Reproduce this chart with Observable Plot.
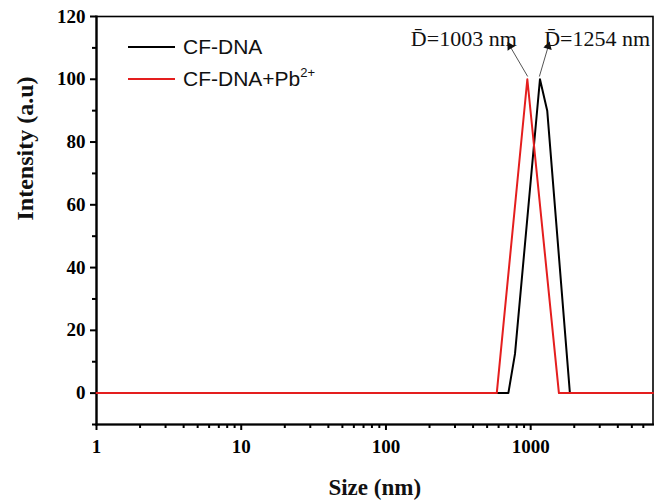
<!DOCTYPE html>
<html>
<head>
<meta charset="utf-8">
<script src="https://cdn.jsdelivr.net/npm/d3@7"></script>
<script src="https://cdn.jsdelivr.net/npm/@observablehq/plot@0.6"></script>
<style>
  html, body { margin: 0; padding: 0; background: white; }
  #wrap { position: relative; width: 654px; height: 503px; }
  #legend { position: absolute; left: 128px; top: 31px; font-family: "Liberation Sans", Arial, sans-serif; font-size: 21px; color: #111; }
  #legend .row { display: flex; align-items: center; height: 32px; }
  #legend .sw { width: 47px; height: 2px; margin-right: 8px; }
  #legend sup { font-size: 13px; vertical-align: 9px; line-height: 0; }
</style>
</head>
<body>
<div id="wrap"></div>
<script>
// Series: CF-DNA (black)
const sizeCF = [1, 701, 779, 1159, 1301, 1866, 7000];
const intensityCF = [0, 0, 12.5, 100, 90, 0, 0];
// Series: CF-DNA + Pb2+ (red)
const sizePb = [1, 583, 948, 1567, 7000];
const intensityPb = [0, 0, 100, 0, 0];

// Tick values
const xTicks = [1, 10, 100, 1000];
const xMinorTicks = [2, 3, 4, 5, 6, 7, 8, 9, 20, 30, 40, 50, 60, 70, 80, 90, 200, 300, 400, 500, 600, 700, 800, 900, 2000, 3000, 4000, 5000, 6000];
const yTicks = [0, 20, 40, 60, 80, 100, 120];
const yMinorTicks = [-10, 10, 30, 50, 70, 90, 110];

// Annotations
const annLabels = ["D\u0304=1003 nm", "D\u0304=1254 nm"];
const annTextX = [345, 2880];
const annTextY = [110.7, 110.7];
const annFromX = [950, 1150];
const annFromY = [101, 101];
const annToX = [720, 1322];
const annToY = [110.5, 110.5];
const annHeadRotate = [-30, 16];

const seriesNames = ["CF-DNA", "CF-DNA+Pb2+"];
const seriesColors = ["#000000", "#e41e1e"];

const dataCF = sizeCF.map((s, i) => ({size: s, intensity: intensityCF[i]}));
const dataPb = sizePb.map((s, i) => ({size: s, intensity: intensityPb[i]}));
const ann = annLabels.map((t, i) => ({
  text: t, tx: annTextX[i], ty: annTextY[i],
  x1: annFromX[i], y1: annFromY[i], x2: annToX[i], y2: annToY[i], rot: annHeadRotate[i]
}));

const serif = "'Liberation Serif', 'Times New Roman', serif";

const chart = Plot.plot({
  width: 654,
  height: 503,
  marginLeft: 96,
  marginRight: 1.5,
  marginTop: 16,
  marginBottom: 79,
  x: {type: "log", domain: [1, 7000]},
  y: {domain: [-10, 120]},
  style: {fontFamily: serif, background: "white", color: "black"},
  marks: [
    Plot.axisY(yTicks, {tickSize: 6, tickPadding: 5, fontSize: 19, fontWeight: "bold", label: null, strokeWidth: 2, tickFormat: d => String(d)}),
    Plot.axisY(yMinorTicks, {tickSize: 4, tickFormat: () => "", label: null, strokeWidth: 2}),
    Plot.axisX(xTicks, {tickSize: 6, tickPadding: 9, fontSize: 19, fontWeight: "bold", label: null, strokeWidth: 2, tickFormat: d => String(d)}),
    Plot.axisX(xMinorTicks, {tickSize: 4, tickFormat: () => "", label: null, strokeWidth: 2}),
    Plot.frame({stroke: "black", strokeWidth: 1.6}),
    Plot.frame({anchor: "left", stroke: "black", strokeWidth: 2.2}),
    Plot.frame({anchor: "bottom", stroke: "black", strokeWidth: 2.2}),
    Plot.line(dataCF, {x: "size", y: "intensity", stroke: seriesColors[0], strokeWidth: 2}),
    Plot.line(dataPb, {x: "size", y: "intensity", stroke: seriesColors[1], strokeWidth: 2}),
    Plot.arrow(ann, {x1: "x1", y1: "y1", x2: "x2", y2: "y2", stroke: "#555", strokeWidth: 1, headLength: 0}),
    Plot.dot(ann, {x: "x2", y: "y2", symbol: "triangle", r: 3.2, fill: "#111", stroke: "none", rotate: "rot"}),
    Plot.text(ann, {x: "tx", y: "ty", text: "text", fontSize: 22, lineAnchor: "bottom", textAnchor: "middle", fill: "#111"}),
    Plot.text(["Size (nm)"], {frameAnchor: "bottom", dy: 63, lineAnchor: "middle", fontSize: 23, fontWeight: "bold", fill: "#111"}),
    Plot.text(["Intensity (a.u)"], {frameAnchor: "left", dx: -71, rotate: -90, lineAnchor: "middle", fontSize: 24, fontWeight: "bold", fill: "#111"})
  ]
});

const wrap = document.getElementById("wrap");
wrap.appendChild(chart);

const legend = document.createElement("div");
legend.id = "legend";
legend.innerHTML = seriesNames.map((n, i) => {
  const label = n.replace("2+", "<sup>2+</sup>");
  return `<div class="row"><div class="sw" style="background:${seriesColors[i]}"></div><span>${label}</span></div>`;
}).join("");
wrap.appendChild(legend);
</script>
</body>
</html>
